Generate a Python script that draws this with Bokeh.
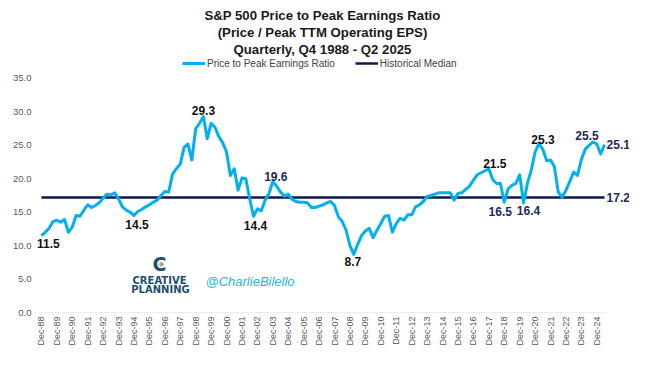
import math
from bokeh.plotting import figure
from bokeh.models import (Range1d, FixedTicker, PrintfTickFormatter, Legend,
                          LegendItem, Label, ColumnDataSource)
from bokeh.core.properties import value
from bokeh.embed import file_html
from bokeh.resources import INLINE

# ---------------- data ----------------
title_lines = ["S&P 500 Price to Peak Earnings Ratio",
               "(Price / Peak TTM Operating EPS)",
               "Quarterly, Q4 1988 - Q2 2025"]

x_tick_labels = ["Dec-88", "Dec-89", "Dec-90", "Dec-91", "Dec-92", "Dec-93", "Dec-94",
                 "Dec-95", "Dec-96", "Dec-97", "Dec-98", "Dec-99", "Dec-00", "Dec-01",
                 "Dec-02", "Dec-03", "Dec-04", "Dec-05", "Dec-06", "Dec-07", "Dec-08",
                 "Dec-09", "Dec-10", "Dec-11", "Dec-12", "Dec-13", "Dec-14", "Dec-15",
                 "Dec-16", "Dec-17", "Dec-18", "Dec-19", "Dec-20", "Dec-21", "Dec-22",
                 "Dec-23", "Dec-24"]

y_ticks = [0, 5, 10, 15, 20, 25, 30, 35]

# quarterly ratio, Q4 1988 ... Q2 2025
ratio = [
    11.5, 12.0, 12.6, 13.6, 13.8, 13.5, 13.9, 12.0,   # 88Q4-90Q3
    12.8, 14.5, 14.4, 15.3, 16.1, 15.7, 16.0, 16.4,   # 90Q4-92Q3
    17.1, 17.7, 17.6, 17.9, 17.0, 15.8, 15.3, 15.0,   # 92Q4-94Q3
    14.5, 15.1, 15.4, 15.8, 16.1, 16.5, 16.8, 17.5,   # 94Q4-96Q3
    18.1, 18.0, 20.7, 21.5, 22.2, 24.7, 25.2, 22.8,   # 96Q4-98Q3
    27.5, 28.3, 29.3, 26.0, 28.3, 27.7, 26.3, 25.4,   # 98Q4-00Q3
    24.0, 20.5, 21.5, 18.3, 20.1, 20.0, 17.0, 14.4,   # 00Q4-02Q3
    15.5, 15.2, 16.8, 17.8, 19.6, 18.9, 18.0, 17.4,   # 02Q4-04Q3
    17.7, 16.9, 16.6, 16.5, 16.5, 16.4, 15.7, 15.7,   # 04Q4-06Q3
    15.9, 16.1, 16.4, 16.6, 16.0, 14.3, 13.6, 12.3,   # 06Q4-08Q3
    10.0, 8.7, 10.2, 11.5, 12.2, 12.6, 11.2, 12.3,    # 08Q4-10Q3
    13.3, 14.4, 14.5, 12.0, 13.3, 14.1, 13.8, 14.6,   # 10Q4-12Q3
    14.6, 15.8, 16.1, 16.6, 17.35, 17.5, 17.7, 17.9,  # 12Q4-14Q3
    17.9, 17.9, 17.9, 16.8, 17.8, 17.9, 18.4, 18.9,   # 14Q4-16Q3
    19.8, 20.6, 20.9, 21.2, 21.5, 19.9, 19.3, 19.3,   # 16Q4-18Q3
    16.5, 18.5, 19.0, 19.3, 20.6, 16.4, 19.3, 21.3,   # 18Q4-20Q3
    24.0, 25.3, 24.4, 22.7, 22.8, 21.8, 18.0, 17.2,   # 20Q4-22Q3
    18.3, 19.6, 21.0, 20.5, 22.9, 24.4, 25.0, 25.5,   # 22Q4-24Q3
    25.2, 23.7, 25.1                                  # 24Q4-25Q2
]
median_value = 17.2

labelled_points = [0, 24, 42, 55, 60, 81, 116, 120, 125, 129, 143, 146]

series_names = ["Price to Peak Earnings Ratio", "Historical Median"]

# ---------------- styling ----------------
FONT = "Liberation Sans"
BLUE = "#00B0F0"
NAVY = "#0E1A4A"
LABEL_NAVY = "#1B2A5A"
GREY_TXT = "#595959"

n = len(ratio)
idx = list(range(n))

# frame covers the whole drawing area so texts are not clipped
p = figure(width=629, height=350, output_backend="svg", toolbar_location=None,
           x_range=Range1d(-1.53, 152.47), y_range=Range1d(0, 46.66),
           min_border_left=35, min_border_right=0, min_border_top=0,
           min_border_bottom=38)
p.outline_line_color = None
p.grid.visible = False
p.background_fill_color = "white"
p.border_fill_color = "white"

# y axis
p.yaxis.ticker = FixedTicker(ticks=y_ticks)
p.yaxis.formatter = PrintfTickFormatter(format="%.1f")
p.yaxis.axis_line_color = None
p.yaxis.major_tick_line_color = None
p.yaxis.minor_tick_line_color = None
p.yaxis.major_tick_out = 0
p.yaxis.major_tick_in = 0
p.yaxis.major_label_standoff = 4
p.yaxis.major_label_text_font = FONT
p.yaxis.major_label_text_font_size = "9.5px"
p.yaxis.major_label_text_color = GREY_TXT

# x axis
tick_pos = list(range(0, n, 4))
p.xaxis.ticker = FixedTicker(ticks=tick_pos)
p.xaxis.major_label_overrides = {t: lab for t, lab in zip(tick_pos, x_tick_labels)}
p.xaxis.major_label_orientation = math.pi / 2
p.xaxis.axis_line_color = None
p.xaxis.major_tick_line_color = None
p.xaxis.minor_tick_line_color = None
p.xaxis.major_tick_out = 0
p.xaxis.major_tick_in = 0
p.xaxis.major_label_standoff = 4
p.xaxis.major_label_text_font = FONT
p.xaxis.major_label_text_font_size = "9px"
p.xaxis.major_label_text_color = GREY_TXT

# category axis baseline (spans the category band of the series)
p.segment(x0=[idx[0] - 0.5], y0=[0], x1=[idx[-1] + 0.5], y1=[0],
          line_color="#D9D9D9", line_width=1)

# lines
r_med = p.line(idx, [median_value] * n, line_color=NAVY, line_width=2.5)
r_ratio = p.line(idx, ratio, line_color=BLUE, line_width=3, line_join="round")

# data labels
lab_dx = [7, 3, 0, 2, 3, -1, 6, -4, 5, 4, -6, 2]
lab_dy = [8, 9, -6, 9, -5, 7, -5, 9, 8, -4, -6, 0]
lab_align = ["center"] * 11 + ["left"]
lab_color = ["#111111", "#111111", "#111111", "#111111", LABEL_NAVY, "#111111",
             "#111111", LABEL_NAVY, LABEL_NAVY, "#111111", LABEL_NAVY, LABEL_NAVY]
src = ColumnDataSource(dict(
    x=[idx[i] for i in labelled_points],
    y=[ratio[i] for i in labelled_points],
    t=["%.1f" % ratio[i] for i in labelled_points],
    dx=lab_dx, dy=lab_dy, al=lab_align, c=lab_color))
p.text(x="x", y="y", text="t", x_offset="dx", y_offset="dy", text_align="al",
       text_baseline="middle", text_color="c", text_font=value(FONT),
       text_font_style="bold", text_font_size="12px", source=src)

# median value label
med_src = ColumnDataSource(dict(x=[idx[-1]], y=[median_value], t=["%.1f" % median_value]))
p.text(x="x", y="y", text="t", x_offset=2, y_offset=0, text_align="left",
       text_baseline="middle", text_color=LABEL_NAVY, text_font=value(FONT),
       text_font_style="bold", text_font_size="12px", source=med_src)

# legend
legend = Legend(items=[LegendItem(label=series_names[0], renderers=[r_ratio]),
                       LegendItem(label=series_names[1], renderers=[r_med])],
                location=(147, 242), orientation="horizontal",
                background_fill_alpha=0, border_line_alpha=0, padding=0, margin=0,
                spacing=20, label_standoff=2, glyph_width=23, glyph_height=14,
                label_height=14, label_text_font=FONT, label_text_font_size="10px",
                label_text_color="#404040")
p.add_layout(legend)

# title
for line, yy in zip(title_lines, [297, 280, 263]):
    p.add_layout(Label(x=287, y=yy, x_units="screen", y_units="screen", text=line,
                       text_align="center", text_baseline="middle", text_font=FONT,
                       text_font_style="bold", text_font_size="13.2px",
                       text_color="#1a1a1a"))

# logo + handle
p.add_layout(Label(x=124, y=49, x_units="screen", y_units="screen", text="C",
                   text_align="center", text_baseline="middle", text_font="DejaVu Sans",
                   text_font_style="bold", text_font_size="19px", text_color="#1D4F6E"))
p.add_layout(Label(x=126, y=49, x_units="screen", y_units="screen", text="◆",
                   text_align="center", text_baseline="middle", text_font="DejaVu Sans",
                   text_font_size="7px", text_color="#B59E78"))
p.add_layout(Label(x=124, y=32, x_units="screen", y_units="screen", text="CREATIVE",
                   text_align="center", text_baseline="middle", text_font="DejaVu Sans",
                   text_font_style="bold", text_font_size="10px", text_color="#1D4F6E"))
p.add_layout(Label(x=125, y=23, x_units="screen", y_units="screen", text="PLANNING",
                   text_align="center", text_baseline="middle", text_font="DejaVu Sans",
                   text_font_style="bold", text_font_size="10px", text_color="#1D4F6E"))
p.add_layout(Label(x=170, y=31, x_units="screen", y_units="screen", text="@CharlieBilello",
                   text_align="left", text_baseline="middle", text_font=FONT,
                   text_font_style="italic", text_font_size="13px", text_color="#2CB1E8"))

open("out.html", "w").write(file_html(p, INLINE))
